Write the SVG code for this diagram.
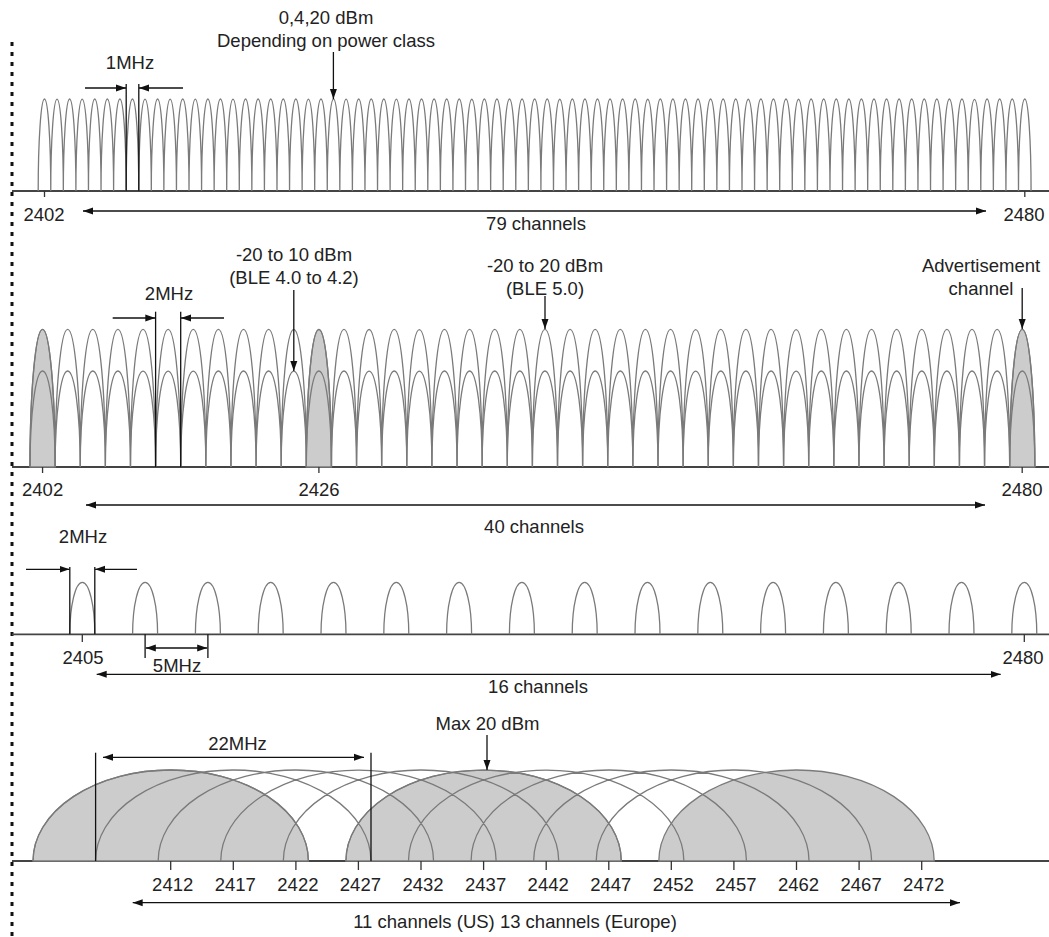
<svg xmlns="http://www.w3.org/2000/svg" width="1049" height="937" viewBox="0 0 1049 937">
<style>
text{font-family:"Liberation Sans",Arial,Helvetica,sans-serif;font-size:18.5px;fill:#222;text-anchor:middle}
.base{stroke:#444;stroke-width:1.8;fill:none}
.lobe{stroke:#7a7a7a;stroke-width:1.3;fill:none}
.fill{fill:#cccccc;stroke:#7a7a7a;stroke-width:1.3}
.ln{stroke:#111;stroke-width:1.3;fill:none}
.arr{stroke:#111;stroke-width:1.3;fill:none;marker-end:url(#ah)}
.darr{stroke:#111;stroke-width:1.3;fill:none;marker-end:url(#ah);marker-start:url(#ah)}
.tick{stroke:#333;stroke-width:1.3}
</style>
<defs>
<marker id="ah" markerUnits="userSpaceOnUse" markerWidth="11" markerHeight="8" refX="10" refY="4" orient="auto-start-reverse">
<path d="M0,0.5 L10,4 L0,7.5 z" fill="#111"/>
</marker>
</defs>
<rect width="1049" height="937" fill="#fff"/>
<line x1="12" y1="42" x2="12" y2="937" stroke="#111" stroke-width="3" stroke-dasharray="4 6"/>

<g id="bt-classic">
<line class="base" x1="12" y1="191" x2="1049" y2="191"/>
<path class="lobe" d="M38.2 191
a6.284 92 0 0 1 12.568 0 a6.284 92 0 0 1 12.568 0 a6.284 92 0 0 1 12.568 0 a6.284 92 0 0 1 12.568 0 a6.284 92 0 0 1 12.568 0 a6.284 92 0 0 1 12.568 0 a6.284 92 0 0 1 12.568 0 a6.284 92 0 0 1 12.568 0 a6.284 92 0 0 1 12.568 0 a6.284 92 0 0 1 12.568 0
a6.284 92 0 0 1 12.568 0 a6.284 92 0 0 1 12.568 0 a6.284 92 0 0 1 12.568 0 a6.284 92 0 0 1 12.568 0 a6.284 92 0 0 1 12.568 0 a6.284 92 0 0 1 12.568 0 a6.284 92 0 0 1 12.568 0 a6.284 92 0 0 1 12.568 0 a6.284 92 0 0 1 12.568 0 a6.284 92 0 0 1 12.568 0
a6.284 92 0 0 1 12.568 0 a6.284 92 0 0 1 12.568 0 a6.284 92 0 0 1 12.568 0 a6.284 92 0 0 1 12.568 0 a6.284 92 0 0 1 12.568 0 a6.284 92 0 0 1 12.568 0 a6.284 92 0 0 1 12.568 0 a6.284 92 0 0 1 12.568 0 a6.284 92 0 0 1 12.568 0 a6.284 92 0 0 1 12.568 0
a6.284 92 0 0 1 12.568 0 a6.284 92 0 0 1 12.568 0 a6.284 92 0 0 1 12.568 0 a6.284 92 0 0 1 12.568 0 a6.284 92 0 0 1 12.568 0 a6.284 92 0 0 1 12.568 0 a6.284 92 0 0 1 12.568 0 a6.284 92 0 0 1 12.568 0 a6.284 92 0 0 1 12.568 0 a6.284 92 0 0 1 12.568 0
a6.284 92 0 0 1 12.568 0 a6.284 92 0 0 1 12.568 0 a6.284 92 0 0 1 12.568 0 a6.284 92 0 0 1 12.568 0 a6.284 92 0 0 1 12.568 0 a6.284 92 0 0 1 12.568 0 a6.284 92 0 0 1 12.568 0 a6.284 92 0 0 1 12.568 0 a6.284 92 0 0 1 12.568 0 a6.284 92 0 0 1 12.568 0
a6.284 92 0 0 1 12.568 0 a6.284 92 0 0 1 12.568 0 a6.284 92 0 0 1 12.568 0 a6.284 92 0 0 1 12.568 0 a6.284 92 0 0 1 12.568 0 a6.284 92 0 0 1 12.568 0 a6.284 92 0 0 1 12.568 0 a6.284 92 0 0 1 12.568 0 a6.284 92 0 0 1 12.568 0 a6.284 92 0 0 1 12.568 0
a6.284 92 0 0 1 12.568 0 a6.284 92 0 0 1 12.568 0 a6.284 92 0 0 1 12.568 0 a6.284 92 0 0 1 12.568 0 a6.284 92 0 0 1 12.568 0 a6.284 92 0 0 1 12.568 0 a6.284 92 0 0 1 12.568 0 a6.284 92 0 0 1 12.568 0 a6.284 92 0 0 1 12.568 0 a6.284 92 0 0 1 12.568 0
a6.284 92 0 0 1 12.568 0 a6.284 92 0 0 1 12.568 0 a6.284 92 0 0 1 12.568 0 a6.284 92 0 0 1 12.568 0 a6.284 92 0 0 1 12.568 0 a6.284 92 0 0 1 12.568 0 a6.284 92 0 0 1 12.568 0 a6.284 92 0 0 1 12.568 0 a6.284 92 0 0 1 12.568 0"/>
<line class="tick" x1="44.5" y1="191" x2="44.5" y2="197"/>
<line class="tick" x1="1024.8" y1="191" x2="1024.8" y2="197"/>
<text x="326" y="24">0,4,20 dBm</text>
<text x="326" y="47">Depending on power class</text>
<text x="130" y="69">1MHz</text>
<text x="44" y="220.5">2402</text>
<text x="1024" y="220.5">2480</text>
<text x="536" y="230">79 channels</text>
</g>

<g id="ble">
<line class="base" x1="12" y1="467" x2="1049" y2="467"/>
<path class="fill" d="M30 467 a12.56 137.7 0 0 1 25.12 0 z"/>
<path class="fill" d="M306.32 467 a12.56 137.7 0 0 1 25.12 0 z"/>
<path class="fill" d="M1009.68 467 a12.56 137.7 0 0 1 25.12 0 z"/>
<path class="lobe" d="M30 467
a12.56 137.7 0 0 1 25.12 0 a12.56 137.7 0 0 1 25.12 0 a12.56 137.7 0 0 1 25.12 0 a12.56 137.7 0 0 1 25.12 0 a12.56 137.7 0 0 1 25.12 0 a12.56 137.7 0 0 1 25.12 0 a12.56 137.7 0 0 1 25.12 0 a12.56 137.7 0 0 1 25.12 0 a12.56 137.7 0 0 1 25.12 0 a12.56 137.7 0 0 1 25.12 0
a12.56 137.7 0 0 1 25.12 0 a12.56 137.7 0 0 1 25.12 0 a12.56 137.7 0 0 1 25.12 0 a12.56 137.7 0 0 1 25.12 0 a12.56 137.7 0 0 1 25.12 0 a12.56 137.7 0 0 1 25.12 0 a12.56 137.7 0 0 1 25.12 0 a12.56 137.7 0 0 1 25.12 0 a12.56 137.7 0 0 1 25.12 0 a12.56 137.7 0 0 1 25.12 0
a12.56 137.7 0 0 1 25.12 0 a12.56 137.7 0 0 1 25.12 0 a12.56 137.7 0 0 1 25.12 0 a12.56 137.7 0 0 1 25.12 0 a12.56 137.7 0 0 1 25.12 0 a12.56 137.7 0 0 1 25.12 0 a12.56 137.7 0 0 1 25.12 0 a12.56 137.7 0 0 1 25.12 0 a12.56 137.7 0 0 1 25.12 0 a12.56 137.7 0 0 1 25.12 0
a12.56 137.7 0 0 1 25.12 0 a12.56 137.7 0 0 1 25.12 0 a12.56 137.7 0 0 1 25.12 0 a12.56 137.7 0 0 1 25.12 0 a12.56 137.7 0 0 1 25.12 0 a12.56 137.7 0 0 1 25.12 0 a12.56 137.7 0 0 1 25.12 0 a12.56 137.7 0 0 1 25.12 0 a12.56 137.7 0 0 1 25.12 0 a12.56 137.7 0 0 1 25.12 0"/>
<path class="lobe" d="M30 467
a12.56 96 0 0 1 25.12 0 a12.56 96 0 0 1 25.12 0 a12.56 96 0 0 1 25.12 0 a12.56 96 0 0 1 25.12 0 a12.56 96 0 0 1 25.12 0 a12.56 96 0 0 1 25.12 0 a12.56 96 0 0 1 25.12 0 a12.56 96 0 0 1 25.12 0 a12.56 96 0 0 1 25.12 0 a12.56 96 0 0 1 25.12 0
a12.56 96 0 0 1 25.12 0 a12.56 96 0 0 1 25.12 0 a12.56 96 0 0 1 25.12 0 a12.56 96 0 0 1 25.12 0 a12.56 96 0 0 1 25.12 0 a12.56 96 0 0 1 25.12 0 a12.56 96 0 0 1 25.12 0 a12.56 96 0 0 1 25.12 0 a12.56 96 0 0 1 25.12 0 a12.56 96 0 0 1 25.12 0
a12.56 96 0 0 1 25.12 0 a12.56 96 0 0 1 25.12 0 a12.56 96 0 0 1 25.12 0 a12.56 96 0 0 1 25.12 0 a12.56 96 0 0 1 25.12 0 a12.56 96 0 0 1 25.12 0 a12.56 96 0 0 1 25.12 0 a12.56 96 0 0 1 25.12 0 a12.56 96 0 0 1 25.12 0 a12.56 96 0 0 1 25.12 0
a12.56 96 0 0 1 25.12 0 a12.56 96 0 0 1 25.12 0 a12.56 96 0 0 1 25.12 0 a12.56 96 0 0 1 25.12 0 a12.56 96 0 0 1 25.12 0 a12.56 96 0 0 1 25.12 0 a12.56 96 0 0 1 25.12 0 a12.56 96 0 0 1 25.12 0 a12.56 96 0 0 1 25.12 0 a12.56 96 0 0 1 25.12 0"/>
<line class="tick" x1="42.56" y1="467" x2="42.56" y2="473"/>
<line class="tick" x1="318.9" y1="467" x2="318.9" y2="473"/>
<line class="tick" x1="1022.2" y1="467" x2="1022.2" y2="473"/>
<text x="294" y="261">-20 to 10 dBm</text>
<text x="294" y="284">(BLE 4.0 to 4.2)</text>
<text x="169" y="300">2MHz</text>
<text x="545" y="272">-20 to 20 dBm</text>
<text x="545" y="295">(BLE 5.0)</text>
<text x="981" y="272">Advertisement</text>
<text x="981" y="295">channel</text>
<text x="42.6" y="495.5">2402</text>
<text x="319" y="495.5">2426</text>
<text x="1022" y="495.5">2480</text>
<text x="534" y="533">40 channels</text>
</g>

<g id="zigbee">
<line class="base" x1="12" y1="634.3" x2="1049" y2="634.3"/>
<path class="lobe" d="M69.8 634.3
a12.5 52 0 0 1 25 0 m37.8 0 a12.5 52 0 0 1 25 0 m37.8 0 a12.5 52 0 0 1 25 0 m37.8 0 a12.5 52 0 0 1 25 0 m37.8 0
a12.5 52 0 0 1 25 0 m37.8 0 a12.5 52 0 0 1 25 0 m37.8 0 a12.5 52 0 0 1 25 0 m37.8 0 a12.5 52 0 0 1 25 0 m37.8 0
a12.5 52 0 0 1 25 0 m37.8 0 a12.5 52 0 0 1 25 0 m37.8 0 a12.5 52 0 0 1 25 0 m37.8 0 a12.5 52 0 0 1 25 0 m37.8 0
a12.5 52 0 0 1 25 0 m37.8 0 a12.5 52 0 0 1 25 0 m37.8 0 a12.5 52 0 0 1 25 0 m37.8 0 a12.5 52 0 0 1 25 0"/>
<line class="tick" x1="82.3" y1="634.3" x2="82.3" y2="642"/>
<line class="tick" x1="1024.3" y1="634.3" x2="1024.3" y2="642"/>
<text x="83" y="543">2MHz</text>
<text x="83" y="664">2405</text>
<text x="1023" y="664">2480</text>
<text x="177" y="671.7">5MHz</text>
<text x="538" y="692.5">16 channels</text>
</g>

<g id="wifi">
<line class="base" x1="12" y1="861" x2="1049" y2="861"/>
<path class="fill" d="M33 861 a137.7 91 0 0 1 275.4 0 z"/>
<path class="fill" d="M345.9 861 a137.7 91 0 0 1 275.4 0 z"/>
<path class="fill" d="M658.8 861 a137.7 91 0 0 1 275.4 0 z"/>
<path class="lobe" d="M33 861 a137.7 91 0 0 1 275.4 0
m-212.82 0 a137.7 91 0 0 1 275.4 0 m-212.82 0 a137.7 91 0 0 1 275.4 0 m-212.82 0 a137.7 91 0 0 1 275.4 0
m-212.82 0 a137.7 91 0 0 1 275.4 0 m-212.82 0 a137.7 91 0 0 1 275.4 0 m-212.82 0 a137.7 91 0 0 1 275.4 0
m-212.82 0 a137.7 91 0 0 1 275.4 0 m-212.82 0 a137.7 91 0 0 1 275.4 0 m-212.82 0 a137.7 91 0 0 1 275.4 0"/>
<path class="tick" d="M170.7 861v9 M233.3 861v9 M295.9 861v9 M358.4 861v9 M421 861v9 M483.6 861v9 M546.2 861v9 M608.8 861v9 M671.3 861v9 M733.9 861v9 M796.5 861v9 M859.1 861v9 M921.7 861v9"/>
<text x="172.7" y="890.7">2412</text>
<text x="235.3" y="890.7">2417</text>
<text x="297.9" y="890.7">2422</text>
<text x="360.4" y="890.7">2427</text>
<text x="423" y="890.7">2432</text>
<text x="485.6" y="890.7">2437</text>
<text x="548.2" y="890.7">2442</text>
<text x="610.8" y="890.7">2447</text>
<text x="673.3" y="890.7">2452</text>
<text x="735.9" y="890.7">2457</text>
<text x="798.5" y="890.7">2462</text>
<text x="861.1" y="890.7">2467</text>
<text x="923.7" y="890.7">2472</text>
<text x="237.5" y="750">22MHz</text>
<text x="487.5" y="730">Max 20 dBm</text>
<text x="515" y="928">11 channels (US) 13 channels (Europe)</text>
</g>

<g id="connectors">
<line class="ln" x1="126.2" y1="84" x2="126.2" y2="191"/>
<line class="ln" x1="138.8" y1="84" x2="138.8" y2="191"/>
<line class="arr" x1="85" y1="88" x2="126" y2="88"/>
<line class="arr" x1="183" y1="88" x2="139" y2="88"/>
<line class="arr" x1="333.4" y1="52" x2="333.4" y2="99"/>
<line class="darr" x1="83" y1="211" x2="986" y2="211"/>

<line class="ln" x1="155.6" y1="311.7" x2="155.6" y2="467"/>
<line class="ln" x1="180.7" y1="311.7" x2="180.7" y2="467"/>
<line class="arr" x1="112.7" y1="318" x2="155.3" y2="318"/>
<line class="arr" x1="224" y1="318" x2="181" y2="318"/>
<line class="arr" x1="293.8" y1="290" x2="293.8" y2="371"/>
<line class="arr" x1="545" y1="296" x2="545" y2="329"/>
<line class="arr" x1="1022.2" y1="288" x2="1022.2" y2="329"/>
<line class="darr" x1="86" y1="505" x2="985" y2="505"/>

<line class="ln" x1="69.8" y1="567" x2="69.8" y2="634.3"/>
<line class="ln" x1="94.8" y1="567" x2="94.8" y2="634.3"/>
<line class="arr" x1="26" y1="569.3" x2="69.5" y2="569.3"/>
<line class="arr" x1="137" y1="569.3" x2="95.1" y2="569.3"/>
<line class="ln" x1="145.1" y1="634.3" x2="145.1" y2="658"/>
<line class="ln" x1="207.9" y1="634.3" x2="207.9" y2="658"/>
<line class="darr" x1="145.8" y1="648" x2="207.2" y2="648"/>
<line class="darr" x1="96.7" y1="674.3" x2="1000.7" y2="674.3"/>

<line class="ln" x1="95.6" y1="752.7" x2="95.6" y2="861"/>
<line class="ln" x1="371" y1="752.7" x2="371" y2="861"/>
<line class="darr" x1="103" y1="757.3" x2="364" y2="757.3"/>
<line class="arr" x1="487" y1="735" x2="487" y2="770"/>
<line class="darr" x1="132.7" y1="902.7" x2="960" y2="902.7"/>
</g>
</svg>
